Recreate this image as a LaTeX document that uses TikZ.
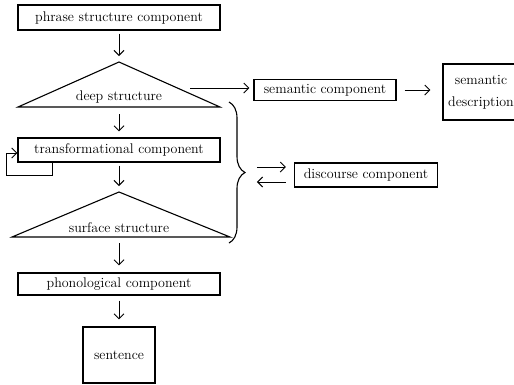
\documentclass[tikz,border=0pt]{standalone}
\usepackage{tikz}
\usetikzlibrary{arrows.meta,decorations.pathreplacing}

\tikzset{
  compbox/.style={draw, line width=1.1pt, inner sep=2pt, text centered, font=\fontsize{14}{22}\selectfont},
  plain/.style={font=\fontsize{14}{22}\selectfont},
  arr/.style={line width=1pt, -{Straight Barb[length=5pt, width=10pt]}}
}

\begin{document}
\begin{tikzpicture}[x=1pt, y=-1pt, line width=1.1pt]
        \useasboundingbox (0,0) rectangle (514,384);
        % Componente de estructura de frase
        \node[compbox, minimum width=202pt, minimum height=25pt] (phrase) at (119,17.5) {phrase structure component};
        % Estructura profunda
        \coordinate (dsTop) at (119,62);
        \coordinate (dsLeft) at (18,107);
        \coordinate (dsRight) at (220,107);
        \draw (dsTop) -- (dsRight) -- (dsLeft) -- cycle;
        \node[plain] (deep) at (119,97) {deep structure};
        \draw[arr, shorten <=3pt, shorten >=6pt] (phrase.south) -- (dsTop);
        % Componente semantico
        \node[compbox, minimum width=142pt, minimum height=21pt] (sem) at (325,90) {semantic component};
        \node[compbox, minimum width=76pt, minimum height=56pt, align=center] (semdesc) at (481,92) {semantic\\description};
        \coordinate (dsOut) at (190,88);
        \draw[arr] (dsOut) -- ([xshift=-4pt]sem.west |- dsOut);
        \draw[arr, shorten <=8pt, shorten >=12pt] (sem.east) -- (semdesc.west |- sem.east);
        % Componente transformacional
        \node[compbox, minimum width=202pt, minimum height=24pt] (trans) at (119,150) {transformational component};
        \draw[arr, shorten <=5pt, shorten >=6pt] ([yshift=-2pt]dsLeft -| dsTop) -- (trans.north);
        \coordinate (loop) at (6,175);
        \draw[arr] ([xshift=-67pt]trans.south) |- (loop) |- ([yshift=-3pt]trans.west);
        % Estructura superficial
        \coordinate (ssTop) at (119,192);
        \coordinate (ssLeft) at (12,237);
        \coordinate (ssRight) at (230,237);
        \draw (ssTop) -- (ssRight) -- (ssLeft) -- cycle;
        \node[plain] (surface) at (119,228) {surface structure};
        \draw[arr, shorten <=3pt, shorten >=6pt] (trans.south) -- (ssTop);
        % Llave y componente del discurso
        \coordinate (brTop) at (229,102);
        \coordinate (brBot) at (229,243);
        \draw[decorate, decoration={brace, amplitude=16pt}] (brTop) -- (brBot);
        \node[compbox, minimum width=143pt, minimum height=24pt] (disc) at (366,175) {discourse component};
        \draw[arr] ([shift={(-37pt,8pt)}]disc.west) -- ([shift={(-8pt,8pt)}]disc.west);
        \draw[arr] ([shift={(-8pt,-7pt)}]disc.west) -- ([shift={(-37pt,-7pt)}]disc.west);
        % Componente fonologico y oracion
        \node[compbox, minimum width=202pt, minimum height=22pt] (phon) at (119,284) {phonological component};
        \draw[arr, shorten <=6pt, shorten >=7pt] (ssLeft -| ssTop) -- (phon.north);
        \node[compbox, minimum width=72pt, minimum height=56pt] (sent) at (119,355) {sentence};
        \draw[arr, shorten <=5pt, shorten >=7pt] (phon.south) -- (sent.north);
    \end{tikzpicture}
\end{document}
